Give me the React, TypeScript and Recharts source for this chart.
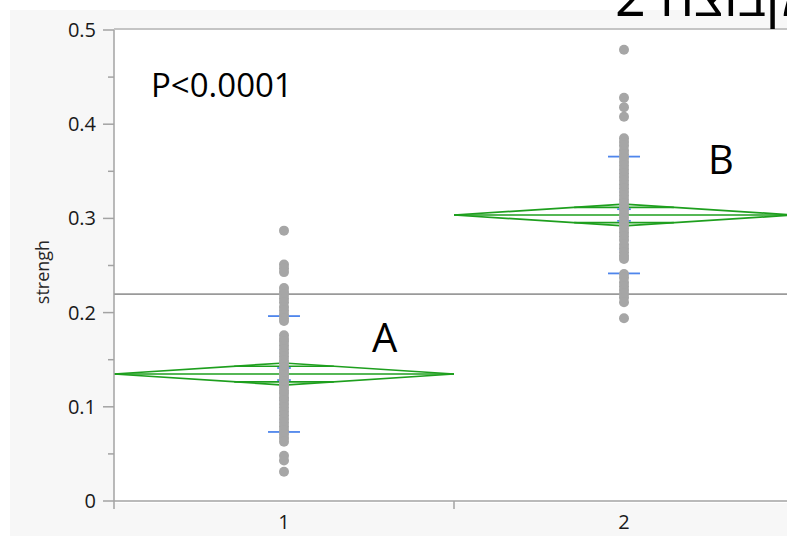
import { ComposedChart, Scatter, XAxis, YAxis, ReferenceLine } from "recharts";

// strength by group
const groups = [1, 2];
const groupLabels = ["1", "2"];
const strength1 = [
    0.287, 0.251, 0.247, 0.243, 0.226, 0.222, 0.219, 0.215, 0.211, 0.206, 0.202, 0.198, 0.194, 0.191,
    0.176, 0.172, 0.169, 0.165, 0.161, 0.157, 0.153, 0.149, 0.146, 0.142, 0.139, 0.136, 0.133, 0.13,
    0.127, 0.124, 0.121, 0.117, 0.114, 0.11, 0.107, 0.103, 0.099, 0.095, 0.091, 0.087, 0.083, 0.079,
    0.075, 0.071, 0.067, 0.063, 0.048, 0.043, 0.031,
];
const strength2 = [
    0.479, 0.428, 0.418, 0.408, 0.385, 0.381, 0.377, 0.372, 0.368, 0.364, 0.36, 0.356, 0.352, 0.348,
    0.344, 0.34, 0.336, 0.332, 0.328, 0.324, 0.32, 0.316, 0.312, 0.309, 0.305, 0.301, 0.297, 0.293,
    0.289, 0.285, 0.281, 0.277, 0.272, 0.268, 0.264, 0.26, 0.257, 0.241, 0.237, 0.232, 0.228, 0.224,
    0.22, 0.216, 0.211, 0.194,
];
const groupMeans = [0.1348, 0.3036];
const ciHalf = [0.0117, 0.0115];
const stdDevs = [0.0615, 0.062];
const stdErrs = [0.0064, 0.0062];
const grandMean = 0.2197;
const yTicks = [0, 0.05, 0.1, 0.15, 0.2, 0.25, 0.3, 0.35, 0.4, 0.45, 0.5];
const yLabelTicks = [0, 0.1, 0.2, 0.3, 0.4, 0.5];
const xTicks = [0.5, 1, 1.5, 2, 2.5];
const letters = ["A", "B"];
const pText = "P<0.0001";
const headerText = "קבוצה 2";

const GREEN = "#1e9f1e";
const BLUE = "#4f86ec";
const AXIS = "#a3a3a3";
const FONT = "'Open Sans', 'DejaVu Sans', sans-serif";

const points = [
    ...strength1.map((y) => ({ x: groups[0], y })),
    ...strength2.map((y) => ({ x: groups[1], y })),
];

type Seg = [{ x: number; y: number }, { x: number; y: number }];

function diamond(g: number, m: number, ci: number): Seg[] {
    const l = g - 0.5;
    const r = g + 0.5;
    const o = ci / Math.SQRT2;
    const hw = 0.5 * (1 - o / ci);
    return [
        [{ x: l, y: m }, { x: g, y: m + ci }],
        [{ x: g, y: m + ci }, { x: r, y: m }],
        [{ x: r, y: m }, { x: g, y: m - ci }],
        [{ x: g, y: m - ci }, { x: l, y: m }],
        [{ x: l, y: m }, { x: r, y: m }],
        [{ x: g - hw, y: m + o }, { x: g + hw, y: m + o }],
        [{ x: g - hw, y: m - o }, { x: g + hw, y: m - o }],
    ];
}

const diamondSegs = groups.flatMap((g, i) => diamond(g, groupMeans[i], ciHalf[i]));
const seSegs: Seg[] = groups.flatMap((g, i) => [
    [{ x: g - 0.02, y: groupMeans[i] + stdErrs[i] }, { x: g + 0.02, y: groupMeans[i] + stdErrs[i] }] as Seg,
    [{ x: g - 0.02, y: groupMeans[i] - stdErrs[i] }, { x: g + 0.02, y: groupMeans[i] - stdErrs[i] }] as Seg,
]);
const sdSegs: Seg[] = groups.flatMap((g, i) => [
    [{ x: g - 0.047, y: groupMeans[i] + stdDevs[i] }, { x: g + 0.047, y: groupMeans[i] + stdDevs[i] }] as Seg,
    [{ x: g - 0.047, y: groupMeans[i] - stdDevs[i] }, { x: g + 0.047, y: groupMeans[i] - stdDevs[i] }] as Seg,
]);

// eslint-disable-next-line @typescript-eslint/no-explicit-any
function YTick({ x, y, payload }: any) {
    const v = payload.value;
    const major = yLabelTicks.some((t) => Math.abs(t - v) < 1e-6);
    return (
        <g>
            <line x1={x - (major ? 11 : 6)} x2={x} y1={y} y2={y} stroke={AXIS} strokeWidth={1.5} />
            {major && (
                <text x={x - 18} y={y} dy="0.35em" textAnchor="end" fontSize={20} fill="#1a1a1a" fontFamily={FONT}>
                    {String(v)}
                </text>
            )}
        </g>
    );
}

// eslint-disable-next-line @typescript-eslint/no-explicit-any
function XTick({ x, y, payload }: any) {
    const v = payload.value;
    const idx = groups.indexOf(v);
    if (idx >= 0) {
        return (
            <text x={x} y={y + 21} dy="0.35em" textAnchor="middle" fontSize={20} fill="#1a1a1a" fontFamily={FONT}>
                {groupLabels[idx]}
            </text>
        );
    }
    return <line x1={x} x2={x} y1={y} y2={y + 8} stroke={AXIS} strokeWidth={1.5} />;
}

// eslint-disable-next-line @typescript-eslint/no-explicit-any
function Dot({ cx, cy }: any) {
    return <circle cx={cx} cy={cy} r={5} fill="#a6a6a6" />;
}

export default function App() {
    return (
        <div style={{ position: "absolute", left: 0, top: 0, width: 787, height: 536, overflow: "hidden", background: "#fff" }}>
            <div style={{ position: "absolute", left: 10, top: 10, right: 0, bottom: 0, background: "#f7f7f7" }} />
            <div style={{ position: "absolute", left: 114, top: 28, width: 700, height: 473, background: "#fff", borderTop: "2px solid #c4c4c4" }} />
            <div style={{ position: "absolute", left: 0, top: 0 }}>
                <ComposedChart width={794} height={536} margin={{ top: 30, right: 0, bottom: 0, left: 0 }}>
                    <XAxis
                        type="number"
                        dataKey="x"
                        domain={[0.5, 2.5]}
                        ticks={xTicks}
                        interval={0}
                        height={35}
                        tickSize={0}
                        tickMargin={0}
                        tickLine={false}
                        tick={<XTick />}
                        axisLine={{ stroke: AXIS, strokeWidth: 1.5 }}
                        allowDataOverflow
                    />
                    <YAxis
                        type="number"
                        dataKey="y"
                        domain={[0, 0.5]}
                        ticks={yTicks}
                        interval={0}
                        width={114}
                        tickSize={0}
                        tickMargin={0}
                        tickLine={false}
                        tick={<YTick />}
                        axisLine={{ stroke: AXIS, strokeWidth: 1.5 }}
                        allowDataOverflow
                    />
                    <ReferenceLine y={grandMean} stroke="#9a9a9a" strokeWidth={1.8} />
                    {diamondSegs.map((s, i) => (
                        <ReferenceLine key={"d" + i} segment={s} stroke={GREEN} strokeWidth={1.7} ifOverflow="visible" />
                    ))}
                    {seSegs.map((s, i) => (
                        <ReferenceLine key={"e" + i} segment={s} stroke={BLUE} strokeWidth={1.8} ifOverflow="visible" />
                    ))}
                    <Scatter data={points} dataKey="y" shape={<Dot />} isAnimationActive={false} />
                    {sdSegs.map((s, i) => (
                        <ReferenceLine key={"s" + i} segment={s} stroke={BLUE} strokeWidth={1.8} ifOverflow="visible" />
                    ))}
                </ComposedChart>
            </div>
            <svg width={787} height={536} style={{ position: "absolute", left: 0, top: 0, pointerEvents: "none" }}>
                <text x={43} y={272} transform="rotate(-90 43 272)" textAnchor="middle" dy="0.35em" fontSize={18} fill="#262626" fontFamily={FONT}>
                    strengh
                </text>
                <text x={151} y={97} fontSize={33} fill="#000" fontFamily={FONT}>
                    {pText}
                </text>
                <text x={372} y={352} fontSize={40} fill="#000" fontFamily={FONT}>
                    {letters[0]}
                </text>
                <text x={708} y={174} fontSize={40} fill="#000" fontFamily={FONT}>
                    {letters[1]}
                </text>
            </svg>
            <div
                style={{
                    position: "absolute",
                    left: 615,
                    top: -32,
                    fontSize: 54,
                    lineHeight: "54px",
                    direction: "rtl",
                    whiteSpace: "nowrap",
                    fontFamily: FONT,
                    color: "#000",
                }}
            >
                {headerText}
            </div>
        </div>
    );
}
